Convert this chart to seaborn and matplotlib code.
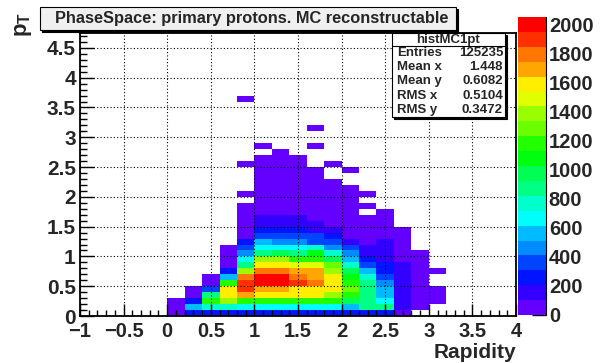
import colorsys
import numpy as np
import pandas as pd
import matplotlib
matplotlib.use("Agg")
import matplotlib.pyplot as plt
from matplotlib.colors import ListedColormap
from matplotlib.patches import Rectangle
from matplotlib.ticker import MultipleLocator
from matplotlib.lines import Line2D
import seaborn as sns

# ---------------- data ----------------
# binning of the 2D histogram
rap_min, rap_max, rap_bin = -1.0, 4.0, 0.2
pt_min, pt_max, pt_bin = 0.0, 4.8, 0.1

# counts per rapidity bin (keyed by lower edge), listed from pT = 0 upward
counts_y0_0 = [55, 80, 35]
counts_y0_2 = [250, 570, 260, 85, 30]
counts_y0_4 = [265, 770, 1180, 870, 360, 60, 25]
counts_y0_6 = [270, 760, 1390, 1590, 1600, 1180, 560, 250, 90, 60, 40, 20]
counts_y0_8 = [260, 680, 1170, 1700, 1900, 1890, 1790, 1390, 880, 670, 460, 360, 255,
               95, 80, 60, 40, 30, 20, 0, 12, 0, 0, 0, 0, 8,
               0, 0, 0, 0, 0, 0, 0, 0, 0, 0, 4]
counts_y1_0 = [265, 680, 1190, 1600, 1700, 2010, 2040, 1800, 1590, 1390, 870, 670, 560,
               360, 250, 150, 120, 90, 80, 70, 60, 50, 40, 30, 25, 20, 10, 0, 6]
counts_y1_2 = [265, 690, 1200, 1610, 1710, 2000, 2055, 1810, 1600, 1380, 980, 680, 460,
               360, 255, 160, 130, 95, 80, 70, 60, 50, 40, 30, 20, 15, 10, 5]
counts_y1_4 = [260, 680, 1180, 1600, 1590, 1900, 1800, 1700, 1490, 1180, 880, 670, 460,
               360, 250, 150, 120, 90, 75, 60, 50, 40, 30, 25, 20, 12, 8]
counts_y1_6 = [255, 670, 1170, 1590, 1600, 1800, 1700, 1690, 1480, 1180, 1080, 770, 360,
               350, 150, 120, 90, 80, 70, 55, 45, 35, 25, 15, 10, 0, 0, 0, 5, 0, 0, 4]
counts_y1_8 = [255, 670, 1180, 1390, 1600, 1590, 1580, 1390, 1290, 980, 770, 460, 360,
               250, 150, 90, 75, 60, 50, 40, 30, 20, 12, 0, 0, 6]
counts_y2_0 = [255, 565, 975, 1180, 1285, 1180, 1080, 975, 770, 565, 460, 360, 150,
               95, 80, 70, 55, 45, 35, 25, 18, 10, 0, 0, 5]
counts_y2_2 = [255, 875, 880, 870, 875, 870, 770, 565, 360, 255, 150, 140, 90, 70, 50,
               35, 20, 0, 10, 0, 8]
counts_y2_4 = [255, 875, 670, 565, 560, 460, 400, 255, 250, 150, 140, 130, 120, 80, 60,
               40, 25, 12]
counts_y2_6 = [40, 150, 145, 140, 135, 130, 125, 120, 110, 90, 80, 60, 45, 30, 15]
counts_y2_8 = [0, 80, 70, 60, 50, 45, 40, 30, 25, 15, 10]
counts_y3_0 = [0, 0, 30, 25, 15, 0, 0, 5]

rapidity_columns = [
    (0.0, counts_y0_0), (0.2, counts_y0_2), (0.4, counts_y0_4), (0.6, counts_y0_6),
    (0.8, counts_y0_8), (1.0, counts_y1_0), (1.2, counts_y1_2), (1.4, counts_y1_4),
    (1.6, counts_y1_6), (1.8, counts_y1_8), (2.0, counts_y2_0), (2.2, counts_y2_2),
    (2.4, counts_y2_4), (2.6, counts_y2_6), (2.8, counts_y2_8), (3.0, counts_y3_0),
]

z_max = 2055
n_levels = 20
title_text = "PhaseSpace: primary protons. MC reconstructable"
stats_name = "histMC1pt"
stats_labels = ["Entries", "Mean x", "Mean y", "RMS x", "RMS y"]
stats_values = ["125235", "1.448", "0.6082", "0.5104", "0.3472"]
x_tick_values = [-1, -0.5, 0, 0.5, 1, 1.5, 2, 2.5, 3, 3.5, 4]
y_tick_values = [0, 0.5, 1, 1.5, 2, 2.5, 3, 3.5, 4, 4.5]
z_tick_values = [0, 200, 400, 600, 800, 1000, 1200, 1400, 1600, 1800, 2000]

# ---------------- build histogram matrix ----------------
n_rap = int(round((rap_max - rap_min) / rap_bin))
n_pt = int(round((pt_max - pt_min) / pt_bin))
mat = np.zeros((n_pt, n_rap))
for lo, counts in rapidity_columns:
    i = int(round((lo - rap_min) / rap_bin))
    mat[:len(counts), i] = counts
df = pd.DataFrame(mat)

# ROOT "pretty" palette (violet -> red), 20 contour levels
root_colors = []
for k in range(n_levels):
    idx = int((k + 0.99) * 50 / n_levels)
    hue = 280 - (idx + 1) * 5.6
    root_colors.append(colorsys.hls_to_rgb((hue % 360) / 360.0, 0.5, 1.0))
cmap = ListedColormap(root_colors)

# ---------------- figure ----------------
sns.set_style("white")
plt.rcParams['font.family'] = ['Liberation Sans', 'DejaVu Sans']
plt.rcParams['font.weight'] = 'bold'
plt.rcParams['mathtext.fontset'] = 'custom'
plt.rcParams['mathtext.rm'] = 'Liberation Sans:bold'
plt.rcParams['mathtext.bf'] = 'Liberation Sans:bold'
plt.rcParams['mathtext.it'] = 'Liberation Sans:bold'

W, H = 606, 363
fig = plt.figure(figsize=(W / 100, H / 100), dpi=100)
fig.patch.set_facecolor('white')

def fx(px):
    return px / W

def fy(py):
    return 1 - py / H

ax = fig.add_axes([fx(80), fy(316), (516 - 80) / W, (316 - 33) / H])
cax = fig.add_axes([fx(518), fy(315), (546 - 518) / W, (315 - 17) / H])

sns.heatmap(df, ax=ax, cmap=cmap, vmin=0, vmax=z_max, mask=(mat <= 0),
            cbar=True, cbar_ax=cax, xticklabels=False, yticklabels=False)

ax.set_facecolor('white')
ax.set_xlim(0, n_rap)
ax.set_ylim(0, (4.75 - pt_min) / pt_bin)
for s in ax.spines.values():
    s.set_visible(True)
    s.set_linewidth(1.3)
    s.set_color('black')

ax.set_xticks([(v - rap_min) / rap_bin for v in x_tick_values])
ax.set_xticklabels([("\u2212" + f"{abs(v):g}") if v < 0 else f"{v:g}" for v in x_tick_values],
                   fontsize=14.5, fontweight='bold')
ax.xaxis.set_minor_locator(MultipleLocator(0.1 / rap_bin))
ax.set_yticks([(v - pt_min) / pt_bin for v in y_tick_values])
ax.set_yticklabels([f"{v:g}" for v in y_tick_values], fontsize=15, fontweight='bold')
ax.yaxis.set_minor_locator(MultipleLocator(0.1 / pt_bin))
ax.tick_params(which='both', direction='in', top=False, right=False, bottom=True, left=True,
               width=1, color='black')
ax.tick_params(axis='x', which='major', length=9, pad=4)
ax.tick_params(axis='x', which='minor', length=4.5)
ax.tick_params(axis='y', which='major', length=10, pad=3)
ax.tick_params(axis='y', which='minor', length=5)
ax.grid(True, which='major', color='black', linestyle=(0, (1, 2)), linewidth=0.8)
ax.set_axisbelow(False)
ax.set_xlabel("")
ax.set_ylabel("")

# colorbar
cbar = ax.collections[0].colorbar
cbar.set_ticks(z_tick_values)
cbar.set_ticklabels([str(v) for v in z_tick_values])
cbar.outline.set_visible(False)
cax.tick_params(direction='in', length=10, width=1, labelsize=14.5, pad=2, color='black',
                right=True, left=False)
for t in cax.get_yticklabels():
    t.set_fontweight('bold')
cax.add_line(Line2D([1, 1], [0, 1], transform=cax.transAxes, color='black', lw=0.8,
                    clip_on=False))

# axis titles
fig.text(fx(516), fy(357.5), "Rapidity", ha='right', va='baseline', fontsize=15,
         fontweight='bold')
fig.text(fx(24), fy(12), r"$\mathbf{p_{T}}$", rotation=90, ha='center', va='top',
         fontsize=16)

# title box
def shadow_box(x0, y0, x1, y1, face):
    fig.add_artist(Rectangle((fx(x0 + 2), fy(y1 + 2)), (x1 - x0) / W, (y1 - y0) / H,
                             transform=fig.transFigure, facecolor='black',
                             edgecolor='black', lw=0.8, zorder=5))
    fig.add_artist(Rectangle((fx(x0), fy(y1)), (x1 - x0) / W, (y1 - y0) / H,
                             transform=fig.transFigure, facecolor=face,
                             edgecolor='black', lw=0.8, zorder=6))

shadow_box(40, 7, 456, 30, '#f0f0f0')
fig.text(fx(252), fy(19), title_text, ha='center', va='center', fontsize=11.8,
         fontweight='bold', zorder=7)

# stats box
shadow_box(392, 33, 505, 117, 'white')
fig.add_artist(Line2D([fx(392), fx(505)], [fy(46), fy(46)], transform=fig.transFigure,
                      color='black', lw=0.8, zorder=7))
fig.text(fx(448), fy(39.5), stats_name, ha='center', va='center', fontsize=9.5,
         fontweight='bold', zorder=7)
for r, (lab, val) in enumerate(zip(stats_labels, stats_values)):
    yy = 53 + r * 14.2
    fig.text(fx(397), fy(yy), lab, ha='left', va='center', fontsize=9.5, fontweight='bold',
             zorder=7)
    fig.text(fx(503), fy(yy), val, ha='right', va='center', fontsize=9.5, fontweight='bold',
             zorder=7)

fig.savefig("out.png", dpi=100, facecolor='white')
